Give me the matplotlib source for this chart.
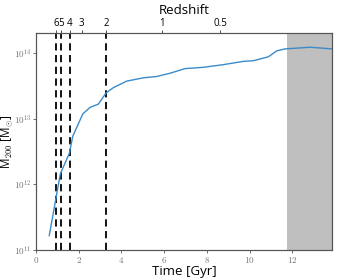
import matplotlib
matplotlib.use("Agg")
import matplotlib.pyplot as plt
import numpy as np

plt.rcParams['font.family'] = ['Open Sans', 'DejaVu Sans']
plt.rcParams['mathtext.fontset'] = 'cm'

time_gyr = [0.62, 1.14, 1.56, 1.72, 2.19, 2.53, 2.92, 3.28, 3.62, 4.25, 5.03, 5.65,
            6.28, 6.98, 7.84, 8.77, 9.71, 10.18, 10.88, 11.27, 11.66, 12.83, 13.86]
log_m200 = [11.22, 12.16, 12.47, 12.73, 13.07, 13.17, 13.22, 13.39, 13.47, 13.57, 13.62, 13.64,
            13.69, 13.76, 13.78, 13.82, 13.87, 13.88, 13.94, 14.03, 14.06, 14.085, 14.06]
m200 = [10 ** v for v in log_m200]

redshift_labels = ['6', '5', '4', '3', '2', '1', '0.5']
redshift_times = [0.93, 1.16, 1.57, 2.14, 3.28, 5.89, 8.62]
dashed_times = [0.93, 1.16, 1.57, 3.28]
shade_start = 11.74
x_ticks = [0, 2, 4, 6, 8, 10, 12]
y_ticks = [1e11, 1e12, 1e13, 1e14]
y_ticklabels = [r'$10^{11}$', r'$10^{12}$', r'$10^{13}$', r'$10^{14}$']

fig = plt.figure(figsize=(3.54, 2.8), dpi=100)
ax = fig.add_axes([0.1017, 0.107, 0.8363, 0.775])
xmax = 13.86
ax.axvspan(shade_start, xmax, color='#bfbfbf', lw=0, zorder=0)
ax.plot(time_gyr, m200, color='#3b8bc9', lw=1.0, zorder=3)
for t in dashed_times:
    ax.axvline(t, color='black', ls=(0, (4, 2.5)), lw=1.3, zorder=2)
ax.set_yscale('log')
ax.set_xlim(0, xmax)
ax.set_ylim(1e11, 2e14)
ax.set_xticks(x_ticks)
ax.set_xticklabels([r'$%d$' % v for v in x_ticks])
ax.set_yticks(y_ticks)
ax.set_yticklabels(y_ticklabels)
ax.yaxis.set_minor_locator(matplotlib.ticker.NullLocator())
ax.tick_params(axis='both', labelsize=6.5, labelcolor='#777777', length=2, width=0.6, color='#555555', pad=1.5)
for s in ax.spines.values():
    s.set_color('#555555')
    s.set_linewidth(0.8)
ax.set_xlabel('Time [Gyr]', fontsize=9.5, labelpad=0)
ax.set_ylabel(r'M$_{200}$ [M$_{\odot}$]', fontsize=8.5)
ax.yaxis.set_label_coords(-0.072, 0.5)

ax2 = ax.twiny()
ax2.set_xlim(ax.get_xlim())
ax2.set_xticks(redshift_times)
ax2.set_xticklabels(redshift_labels)
ax2.tick_params(axis='x', labelsize=7, length=2, width=0.6, color='#333333', pad=0.8)
for s in ax2.spines.values():
    s.set_color('#555555')
    s.set_linewidth(0.8)
ax2.set_xlabel('Redshift', fontsize=9.5)
ax2.xaxis.set_label_coords(0.5, 1.088)

fig.savefig('out.png', dpi=100)
